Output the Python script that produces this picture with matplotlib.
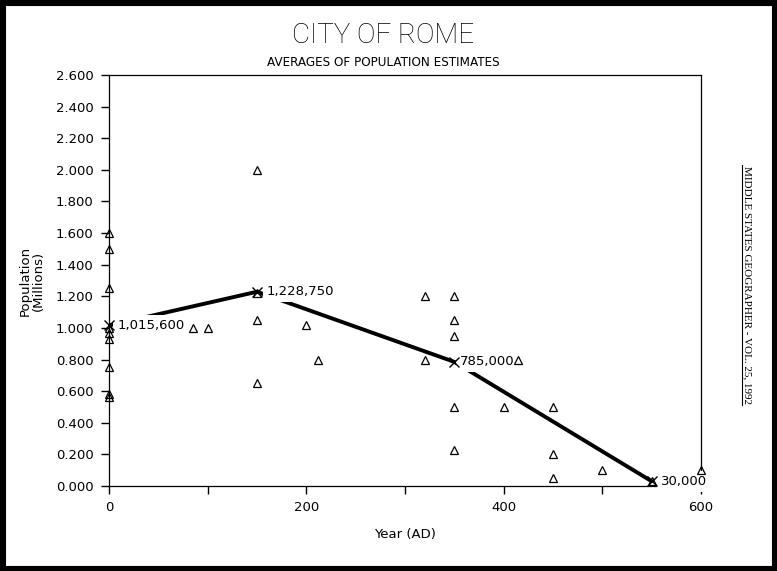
import matplotlib
matplotlib.use("Agg")
import matplotlib.pyplot as plt
from matplotlib.patches import Rectangle
from matplotlib.lines import Line2D

# Dane: pojedyncze szacunki populacji (mln) wg roku
est_years = [0, 0, 0, 0, 0, 0, 0, 0, 0,
             85, 100,
             150, 150, 150, 150,
             200, 212,
             320, 320,
             350, 350, 350, 350, 350,
             400, 415,
             450, 450, 450,
             500, 550, 600]
est_pop = [1.60, 1.50, 1.25, 1.00, 0.97, 0.93, 0.75, 0.58, 0.56,
           1.00, 1.00,
           2.00, 1.22, 1.05, 0.65,
           1.02, 0.80,
           1.20, 0.80,
           1.20, 1.05, 0.95, 0.50, 0.23,
           0.50, 0.80,
           0.50, 0.20, 0.05,
           0.10, 0.03, 0.10]

# Srednie
avg_years = [0, 150, 350, 550]
avg_pop = [1.0156, 1.22875, 0.785, 0.030]
avg_labels = ["1,015,600", "1,228,750", "785,000", "30,000"]
label_dx = [6, 7, 4, 7]

y_ticks = [0.0, 0.2, 0.4, 0.6, 0.8, 1.0, 1.2, 1.4, 1.6, 1.8, 2.0, 2.2, 2.4, 2.6]
x_major = [0, 200, 400, 600]
x_minor = [100, 300, 500]

fig = plt.figure(figsize=(7.77, 5.71), dpi=100)
ax = fig.add_axes([0.1403, 0.1489, 0.9022 - 0.1403, 0.8687 - 0.1489])

ax.plot(avg_years, avg_pop, color="black", lw=2.8, zorder=2, solid_capstyle="butt")
ax.plot(est_years, est_pop, linestyle="none", marker="^", ms=6, mfc="none",
        mec="black", mew=0.9, zorder=4, clip_on=False)
ax.plot(avg_years, avg_pop, linestyle="none", marker="x", ms=7, mec="black",
        mew=1.0, zorder=5, clip_on=False)

for xv, yv, txt, dx in zip(avg_years, avg_pop, avg_labels, label_dx):
    ax.annotate(txt, (xv, yv), xytext=(dx, 0), textcoords="offset points",
                ha="left", va="center", fontsize=9.5, zorder=3,
                bbox=dict(boxstyle="square,pad=0.3", fc="white", ec="none"))

ax.set_xlim(0, 600)
ax.set_ylim(0, 2.6)
ax.set_yticks(y_ticks)
ax.set_yticklabels([f"{v:.3f}" for v in y_ticks])
ax.set_xticks(x_major)
ax.set_xticks(x_minor, minor=True)
ax.tick_params(axis="both", which="both", direction="out", length=6, width=1,
               labelsize=9.5, top=False, right=False)
ax.tick_params(axis="x", which="major", pad=5)
ax.tick_params(axis="y", pad=5)
for s in ax.spines.values():
    s.set_linewidth(0.9)

ax.set_xlabel("Year (AD)", fontsize=9.5, labelpad=10)
ax.set_ylabel("Population\n(Millions)", fontsize=9.5, labelpad=8, linespacing=1.0)

# Tytul - cienka czcionka
fig.text(0.4936, 0.938, "CITY OF ROME", ha="center", va="center", fontsize=20,
         family=["Roboto", "DejaVu Sans"], fontweight="light")
fig.text(0.4936, 0.89, "AVERAGES OF POPULATION ESTIMATES", ha="center", va="center",
         fontsize=9.6, fontstretch="condensed")

# Napis boczny (pionowy, podkreslony)
fig.text(0.962, 0.501, "MIDDLE STATES GEOGRAPHER - VOL. 25, 1992", rotation=270,
         ha="center", va="center", fontsize=8, family="Liberation Serif")
fig.add_artist(Line2D([0.9545, 0.9545], [0.291, 0.711], color="black", lw=0.8,
                      transform=fig.transFigure))

# Czarna ramka wokol obrazka
fig.add_artist(Rectangle((0, 0), 1, 1, transform=fig.transFigure, fill=False,
                         ec="black", lw=8))

fig.savefig("out.png", dpi=100)
